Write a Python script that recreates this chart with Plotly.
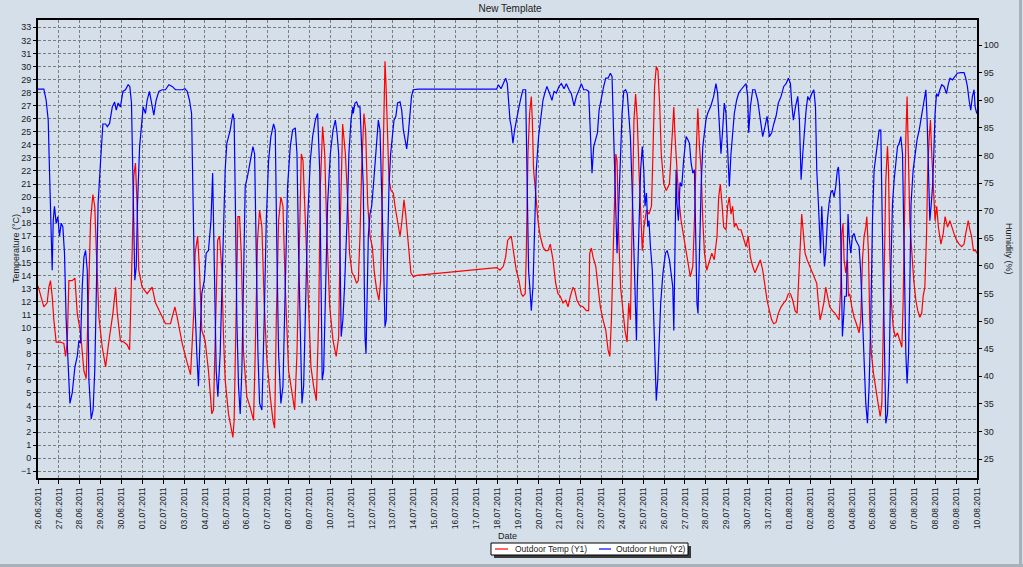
import pandas as pd
import plotly.graph_objects as go

start = pd.Timestamp("2011-06-26")

# Outdoor temperature: time (days after 26.06.2011 00:00) and value (°C)
temp_day = [0.00,0.28,0.44,0.52,0.60,0.68,0.76,0.87,1.08,1.24,1.32,1.40,1.48,1.64,1.77,1.88,
            2.04,2.20,2.31,2.40,2.52,2.63,2.72,2.80,2.92,3.08,3.24,3.40,3.59,3.72,3.80,3.95,
            4.11,4.27,4.39,4.51,4.59,4.67,4.75,4.83,4.99,5.23,5.47,5.63,5.87,6.11,6.35,6.56,
            6.67,6.91,7.15,7.31,7.47,
            7.53,7.65,7.74,7.85,8.01,8.17,8.33,8.41,8.49,8.61,8.70,8.81,8.89,8.97,9.13,9.24,
            9.34,9.40,9.50,9.58,9.66,9.74,9.85,10.01,10.17,10.33,10.41,10.52,10.62,10.73,10.84,
            10.97,11.13,11.26,11.34,11.42,11.53,11.64,11.74,11.85,12.01,12.17,12.30,12.41,12.54,
            12.62,12.70,12.81,12.94,13.08,13.21,13.34,13.45,13.53,13.64,13.74,13.85,13.98,14.14,
            14.29,14.41,14.49,14.60,14.73,14.84,14.93,15.05,
            15.16,15.27,15.35,15.43,15.51,15.62,15.70,15.80,15.91,16.02,16.12,16.23,16.34,16.42,
            16.50,16.58,16.63,16.68,16.74,16.82,16.92,17.03,17.11,17.22,17.35,17.43,17.54,17.62,
            17.75,17.87,17.99,18.15,21.98,22.14,22.30,22.41,22.51,
            22.68,22.80,22.92,23.05,23.16,23.24,23.35,23.40,23.48,23.56,23.64,23.69,23.75,23.85,
            23.96,24.07,24.20,24.31,24.44,24.55,24.68,24.81,24.92,25.03,25.16,25.29,25.40,25.51,
            25.64,25.72,25.83,25.96,26.12,26.28,26.39,26.44,26.52,26.60,26.73,26.84,26.95,27.08,
            27.21,27.32,27.40,27.48,27.59,27.69,27.75,27.83,27.92,28.04,28.13,28.23,28.31,28.39,
            28.48,28.56,28.64,28.72,28.80,28.88,28.96,29.04,29.16,29.28,29.40,29.47,29.55,29.63,
            29.71,29.79,29.87,29.99,30.11,
            30.26,30.34,30.42,30.47,30.53,30.61,30.70,30.82,30.94,31.06,31.17,31.26,31.38,31.46,
            31.54,31.62,31.70,31.78,31.86,31.94,32.05,32.18,32.29,32.41,32.54,32.62,32.70,32.78,
            32.86,32.97,33.05,33.13,33.21,33.29,33.37,33.45,33.57,33.69,33.82,33.93,34.04,34.14,
            34.25,34.36,34.49,34.62,34.73,34.84,34.94,35.05,35.16,35.26,35.37,35.48,35.61,35.74,
            35.85,35.96,36.06,36.17,36.28,36.38,36.46,36.54,36.60,36.68,36.76,36.86,36.97,37.08,
            37.21,37.32,37.40,37.48,37.56,37.66,
            37.75,37.83,37.94,38.07,38.20,38.31,38.39,38.47,38.52,38.58,38.63,38.71,38.79,38.84,
            38.90,39.00,39.11,39.22,39.35,39.43,39.51,39.59,39.67,39.72,39.80,39.86,39.94,40.04,
            40.15,40.26,40.36,40.44,40.50,40.57,40.63,40.71,40.76,40.82,40.90,40.98,41.08,41.19,
            41.30,41.40,41.46,41.52,41.59,41.65,41.72,41.78,41.88,41.97,42.07,42.16,42.26,42.35,
            42.42,42.50,42.58,42.64,42.71,42.77,42.83,42.91,42.99,43.07,43.15,43.27,43.38,43.47,
            43.59,43.70,43.79,43.90,44.02,44.14,44.27,44.38,44.46,44.58,44.66,44.74,44.83,44.94,
            44.99]
temp_c = [13.2,11.6,11.9,13.1,13.6,12.4,10.6,8.9,8.9,8.8,7.8,8.8,13.6,13.6,13.8,11.1,
          9.6,6.7,6.1,10.6,18.2,20.2,19.3,15.7,10.8,8.5,7.0,9.0,11.1,13.1,11.1,9.0,
          8.9,8.7,8.3,15.7,21.6,22.6,19.3,14.4,13.1,12.6,13.1,11.9,11.1,10.3,10.3,11.6,
          10.8,8.8,7.3,6.4,11.3,
          15.7,17.0,14.4,9.8,9.0,6.7,3.4,3.7,9.3,16.7,17.0,14.4,9.3,6.0,3.4,2.4,
          1.6,2.9,11.9,18.5,18.5,15.7,8.0,4.7,3.9,2.9,8.0,16.7,19.0,17.7,11.9,
          7.5,4.7,2.9,2.3,10.6,18.2,20.0,19.3,13.1,6.7,5.0,3.7,8.0,17.7,
          23.3,22.8,18.2,11.6,7.0,5.5,4.4,10.6,20.8,25.4,23.3,17.0,11.6,9.0,
          7.8,9.3,18.2,25.6,23.3,19.8,15.7,14.2,
          13.9,13.4,13.6,17.0,22.1,26.4,25.1,19.5,17.0,16.2,14.2,12.9,12.1,13.6,
          20.8,28.5,30.4,28.5,24.6,21.3,20.5,20.3,19.3,18.2,17.0,18.0,19.8,18.7,
          16.2,14.2,13.9,14.0,14.6,14.4,14.7,15.4,16.7,
          17.0,15.7,14.4,13.6,12.6,12.4,12.6,15.7,23.3,26.4,27.7,25.9,22.1,20.3,
          18.2,17.0,16.2,15.9,15.9,16.4,15.2,13.4,12.6,12.4,11.9,12.1,11.6,12.4,
          13.1,12.9,12.1,11.7,11.6,11.3,11.3,15.7,16.1,15.4,14.7,13.1,11.6,10.6,
          9.8,8.3,7.8,10.6,18.2,23.3,22.8,17.0,13.1,11.3,9.8,8.9,11.9,10.6,
          18.2,25.9,27.9,25.9,22.1,18.2,15.9,17.7,19.0,18.7,19.3,23.3,28.5,30.0,
          29.7,27.2,23.3,21.0,20.5,
          21.0,23.3,25.9,26.9,24.6,22.1,20.0,18.2,17.0,15.7,14.7,13.9,14.7,18.2,
          23.3,26.8,23.9,22.1,18.2,15.7,14.4,15.2,15.7,15.2,17.0,20.0,21.0,19.5,
          17.7,17.5,19.3,20.0,18.7,19.3,17.7,18.0,17.5,17.5,16.7,16.2,17.0,15.4,
          14.7,14.2,14.7,15.2,14.4,13.1,12.1,11.3,10.6,10.3,10.4,11.1,11.6,11.9,
          12.1,12.6,12.6,12.1,11.3,11.1,14.4,17.7,18.7,17.2,15.7,15.2,14.8,14.4,
          13.9,13.4,11.9,10.6,11.1,11.9,
          13.1,12.4,11.6,11.3,11.1,10.8,10.6,13.1,17.2,18.0,15.2,14.2,15.2,12.4,
          12.6,11.6,10.8,10.3,9.6,10.6,15.2,17.0,17.7,18.5,15.7,10.6,8.0,6.5,
          5.5,4.2,3.2,4.2,9.3,17.0,21.3,23.9,22.1,15.7,11.9,10.1,9.3,9.6,
          9.0,8.5,11.9,18.2,24.6,27.7,23.3,18.2,15.7,13.6,12.1,11.3,10.8,11.1,
          12.4,13.1,17.0,22.1,24.6,25.9,23.3,20.8,18.2,19.3,17.7,16.4,17.2,18.5,
          17.7,18.2,17.7,17.2,16.7,16.4,16.2,16.4,17.2,18.2,17.5,17.0,15.9,15.9,
          15.7]

# Outdoor humidity: time (days after 26.06.2011 00:00) and value (%)
hum_day = [0.00,0.28,0.39,0.49,0.55,0.60,0.68,0.73,0.79,0.87,0.95,1.03,1.11,1.19,1.27,
           1.35,1.43,1.53,1.64,1.77,1.88,1.96,2.04,2.12,2.20,2.28,2.36,2.44,2.55,2.64,
           2.72,2.79,2.88,3.00,3.11,3.24,3.32,3.43,3.56,3.67,3.75,3.84,3.95,4.07,4.19,
           4.32,4.40,4.48,4.55,4.61,4.64,4.71,4.77,4.87,4.96,5.04,5.15,5.23,5.34,5.44,
           5.55,5.66,5.79,5.95,6.11,6.27,6.43,6.59,6.91,7.04,7.15,7.26,7.36,7.42,7.47,7.52,
           7.61,7.69,7.77,7.85,7.97,8.06,8.17,8.29,8.37,8.45,8.54,8.62,8.73,8.86,8.97,
           9.05,9.21,9.34,9.40,9.47,9.53,9.61,9.69,9.77,9.85,9.93,10.04,10.17,10.30,10.38,
           10.46,10.54,10.62,10.73,10.84,10.94,11.05,11.16,11.29,11.37,11.45,11.53,11.64,11.74,11.85,
           11.96,12.09,12.20,12.33,12.41,12.49,12.57,12.65,12.73,12.81,12.92,13.05,13.16,13.29,13.40,
           13.50,13.56,13.62,13.69,13.77,13.88,14.01,14.14,14.25,14.33,14.41,14.49,14.53,14.61,14.69,
           14.81,14.90,15.00,15.09,
           15.11,15.19,15.27,15.35,15.43,15.51,15.59,15.64,15.67,15.72,15.76,15.83,15.91,15.99,16.07,
           16.15,16.23,16.31,16.39,16.47,16.55,16.63,16.69,16.75,16.82,16.90,16.98,17.06,17.15,17.23,
           17.35,17.43,17.51,17.59,17.67,17.75,17.82,17.90,17.98,18.22,21.98,22.06,22.19,22.30,22.41,
           22.49,22.54,22.62,
           22.68,22.76,22.84,22.92,23.05,23.16,23.24,23.37,23.43,23.51,23.59,23.64,23.72,23.80,23.88,
           23.99,24.12,24.20,24.28,24.39,24.52,24.63,24.73,24.84,24.97,25.08,25.21,25.32,25.45,25.56,
           25.69,25.80,25.93,26.04,26.15,26.28,26.39,26.44,26.49,26.55,26.63,26.73,26.81,26.89,27.00,
           27.11,27.21,27.32,27.43,27.51,27.59,27.67,27.75,27.83,27.91,27.99,28.07,28.16,28.24,28.31,
           28.39,28.47,28.55,28.63,28.68,28.72,28.80,28.88,28.96,29.03,29.09,29.16,29.22,29.28,29.35,
           29.44,29.51,29.57,29.63,29.70,29.76,29.84,29.95,30.07,30.15,
           30.26,30.34,30.42,30.47,30.53,30.58,30.62,30.69,30.77,30.85,30.94,31.06,31.14,31.22,31.30,
           31.38,31.46,31.54,31.58,31.63,31.70,31.78,31.86,31.94,32.01,32.09,32.17,32.25,32.38,32.49,
           32.57,32.65,32.73,32.81,32.89,32.97,33.05,33.13,33.21,33.29,33.37,33.48,33.58,33.69,33.82,
           33.93,34.01,34.06,34.14,34.25,34.36,34.49,34.62,34.73,34.84,34.94,35.05,35.16,35.26,35.37,
           35.48,35.61,35.74,35.85,35.96,36.06,36.12,36.20,36.30,36.41,36.49,36.57,36.65,36.73,36.81,
           36.89,36.97,37.08,37.18,37.26,37.32,37.40,37.45,37.50,37.56,37.62,37.69,37.75,
           37.83,37.91,37.99,38.07,38.15,38.23,38.31,38.36,38.42,38.47,38.52,38.55,38.60,38.66,38.74,
           38.82,38.87,38.95,39.03,39.11,39.19,39.27,39.35,39.43,39.51,39.59,39.67,39.75,39.83,39.91,
           39.99,40.07,40.15,40.23,40.31,40.39,40.47,40.55,40.63,40.71,40.79,40.87,40.95,41.03,41.11,
           41.19,41.27,41.35,41.43,41.48,41.52,41.59,41.65,41.72,41.78,41.84,41.94,42.03,42.13,42.23,
           42.31,42.39,42.47,42.55,42.61,42.67,42.74,42.80,42.87,42.93,42.99,43.06,43.14,43.22,43.31,
           43.42,43.54,43.63,43.71,43.82,43.95,44.06,44.22,44.38,44.46,44.54,44.62,44.70,44.78,44.86,
           44.91,44.99]
hum_pct = [92.0,92.0,90.0,86.4,77.4,70.1,59.2,68.2,70.8,67.7,68.9,65.4,67.7,67.1,62.3,
           50.2,44.1,35.1,37.0,41.7,43.6,46.5,46.0,56.2,61.6,62.8,59.2,39.3,32.3,33.9,
           41.0,56.2,71.3,79.1,85.7,85.7,85.2,85.8,88.8,89.7,88.2,89.5,88.8,91.6,91.9,
           92.8,92.5,89.5,77.4,62.3,57.4,59.9,71.3,81.6,86.4,88.8,87.6,90.0,91.6,89.5,
           87.3,90.0,91.6,91.9,91.9,92.8,92.5,91.9,91.9,92.1,91.6,90.0,87.6,74.4,65.4,53.2,
           44.1,38.2,47.2,55.0,57.4,62.3,62.8,68.2,76.8,62.3,41.0,36.3,44.1,62.3,77.4,
           82.2,84.6,87.6,86.4,68.2,50.2,38.2,33.2,41.0,62.3,74.4,76.2,78.6,81.6,80.3,
           62.3,44.1,35.1,33.9,50.2,68.2,79.1,83.4,85.7,84.6,62.3,44.1,35.1,38.2,56.2,
           74.4,81.6,84.6,85.0,80.3,62.3,47.2,35.1,38.2,53.2,68.2,79.1,83.4,86.4,87.6,
           77.4,56.2,39.3,41.0,56.2,71.3,80.3,84.6,86.4,84.1,80.3,62.3,47.2,50.2,56.2,
           68.2,80.3,86.4,88.8,
           87.6,89.5,89.7,88.8,88.8,81.6,74.4,56.2,47.2,44.1,53.2,65.4,69.4,70.8,74.4,
           79.1,83.4,86.4,84.6,74.4,62.3,49.0,50.2,62.3,74.4,80.3,83.4,86.4,87.1,89.5,
           89.7,88.2,84.6,82.9,81.2,84.1,87.1,90.7,91.9,92.0,92.0,92.8,92.1,93.0,94.0,
           93.0,89.5,86.4,
           85.2,82.2,84.6,86.4,88.8,90.7,91.9,91.9,74.4,59.2,55.0,51.9,56.2,68.2,77.4,
           83.4,87.6,90.0,91.2,92.5,91.2,90.0,91.6,91.3,92.5,93.0,92.1,93.0,91.9,91.2,
           89.0,90.7,91.9,93.0,91.9,91.9,91.6,86.4,80.3,76.8,81.6,82.9,84.1,88.2,90.7,
           92.5,94.0,94.0,94.9,94.3,83.4,71.3,62.3,70.8,80.3,87.6,91.6,91.9,91.2,87.6,
           83.4,74.4,62.3,51.9,46.5,56.2,68.2,77.4,81.6,77.4,70.8,73.2,67.1,68.2,63.5,
           59.2,50.2,41.0,35.6,39.3,45.3,53.2,58.7,62.3,62.8,
           61.1,58.7,56.2,48.3,62.3,77.4,71.3,68.2,75.1,74.4,79.1,83.4,82.9,82.2,78.6,
           76.8,77.4,62.3,53.2,51.4,62.3,74.4,81.6,84.6,86.4,87.6,88.2,89.0,90.7,93.0,
           91.2,86.4,80.3,84.6,89.5,87.6,80.3,74.4,80.3,83.4,87.6,90.0,91.3,91.9,92.5,
           93.0,90.7,84.1,88.8,91.9,91.9,90.0,86.4,83.4,85.2,87.1,83.4,84.1,85.7,87.1,
           89.5,90.7,92.5,93.0,94.0,93.0,89.5,86.4,88.8,90.7,86.4,75.6,80.3,84.6,88.2,
           90.7,90.0,91.2,91.9,88.8,77.4,71.3,65.4,62.3,70.8,65.4,59.9,62.3,
           68.2,71.3,73.2,73.7,72.5,74.4,77.4,77.9,74.4,65.4,55.0,47.2,50.2,54.5,54.5,
           69.4,65.4,62.3,65.4,65.9,64.7,64.0,63.5,58.7,50.2,41.0,35.1,31.5,38.2,50.2,
           68.2,77.4,80.3,82.2,84.6,84.6,65.4,44.1,31.5,33.2,41.0,59.2,71.3,75.6,79.1,
           81.6,82.2,83.4,80.3,68.2,53.2,44.1,38.7,44.1,56.2,71.3,77.4,80.3,82.9,84.6,
           86.4,88.8,90.7,91.9,86.4,77.4,68.2,70.8,74.4,80.3,87.6,91.2,90.7,91.9,92.8,
           92.5,91.2,93.0,94.0,93.7,94.3,94.9,95.0,95.0,94.0,92.5,90.0,88.2,90.7,91.9,
           88.8,87.6]

series_names = ["Outdoor Temp (Y1)", "Outdoor Hum (Y2)"]
series_colors = ["#FF0000", "#0000FF"]
temp_ticks = list(range(-1, 34))
hum_ticks = list(range(25, 101, 5))

temp_t = start + pd.to_timedelta(temp_day, unit="D")
hum_t = start + pd.to_timedelta(hum_day, unit="D")

BG = "#D4DFEA"
GRID = "#7c7c7c"
FONT = "Liberation Sans, Arial, sans-serif"
TXT = "#1a1a1a"

# plot-area geometry (pixels) used to place legend/annotations in paper coords
W, H = 1023, 567
ML, MR, MT, MB = 38, 46, 20, 89
PW, PH = W - ML - MR, H - MT - MB


def px(x):
    return (x - ML) / PW


def py(y):
    return (H - MB - y) / PH


fig = go.Figure()
fig.add_trace(go.Scatter(x=temp_t, y=temp_c, mode="lines", name=series_names[0],
                         line=dict(color=series_colors[0], width=1.2)))
fig.add_trace(go.Scatter(x=hum_t, y=hum_pct, mode="lines", name=series_names[1],
                         yaxis="y2", line=dict(color=series_colors[1], width=1.2)))

leg_y = py(549)
shapes = [
    # panel edge lines
    dict(type="line", xref="paper", yref="paper", x0=px(1020.5), x1=px(1020.5), y0=py(567), y1=py(0),
         line=dict(color="#A8B0B8", width=3)),
    dict(type="line", xref="paper", yref="paper", x0=px(0), x1=px(1023), y0=py(565.5), y1=py(565.5),
         line=dict(color="#A8B0B8", width=3)),
    # legend shadow and box
    dict(type="rect", xref="paper", yref="paper", x0=px(494), x1=px(691), y0=py(546), y1=py(558),
         fillcolor="#3a3a3a", line=dict(width=0)),
    dict(type="rect", xref="paper", yref="paper", x0=px(491), x1=px(688), y0=py(543), y1=py(555),
         fillcolor="white", line=dict(color="black", width=1)),
    # legend line samples
    dict(type="line", xref="paper", yref="paper", x0=px(495), x1=px(508), y0=leg_y, y1=leg_y,
         line=dict(color=series_colors[0], width=1.2)),
    dict(type="line", xref="paper", yref="paper", x0=px(599), x1=px(611), y0=leg_y, y1=leg_y,
         line=dict(color=series_colors[1], width=1.2)),
]

annotations = [
    dict(text="Date", xref="paper", yref="paper", x=px(507), y=py(536),
         xanchor="center", yanchor="middle", showarrow=False,
         font=dict(family=FONT, size=9, color=TXT)),
    dict(text="Temperature (°C)", xref="paper", yref="paper", x=px(16), y=0.5,
         xanchor="center", yanchor="middle", textangle=-90, showarrow=False,
         font=dict(family=FONT, size=9, color=TXT)),
    dict(text="Humidity (%)", xref="paper", yref="paper", x=px(1009), y=0.5,
         xanchor="center", yanchor="middle", textangle=90, showarrow=False,
         font=dict(family=FONT, size=9, color=TXT)),
    dict(text=series_names[0], xref="paper", yref="paper", x=px(513), y=leg_y,
         xanchor="left", yanchor="middle", showarrow=False,
         font=dict(family=FONT, size=8.5, color=TXT)),
    dict(text=series_names[1], xref="paper", yref="paper", x=px(614), y=leg_y,
         xanchor="left", yanchor="middle", showarrow=False,
         font=dict(family=FONT, size=8.5, color=TXT)),
]

fig.update_layout(
    width=W, height=H, autosize=False,
    margin=dict(l=ML, r=MR, t=MT, b=MB, pad=0, autoexpand=False),
    paper_bgcolor=BG, plot_bgcolor=BG,
    font=dict(family=FONT, size=9, color=TXT),
    title=dict(text="New Template", x=px(510), xref="paper", xanchor="center",
               y=1 - 8 / H, yref="container", yanchor="middle",
               font=dict(family=FONT, size=10, color="#222222")),
    xaxis=dict(type="date", range=["2011-06-26", "2011-08-10"],
               tickmode="linear", tick0="2011-06-26", dtick=86400000,
               tickformat="%d.%m.%Y", tickangle=-90,
               ticks="outside", ticklen=4, tickcolor="black",
               showline=True, linecolor="black", linewidth=2, mirror=True,
               showgrid=True, gridcolor=GRID, griddash="3px,2px", gridwidth=1,
               zeroline=False, automargin=False, tickfont=dict(size=8.5)),
    yaxis=dict(range=[-1.51, 33.56], tickmode="array", tickvals=temp_ticks,
               ticks="outside", ticklen=3, tickcolor="black",
               showline=True, linecolor="black", linewidth=2, mirror=True,
               showgrid=True, gridcolor=GRID, griddash="3px,2px", gridwidth=1,
               zeroline=False, automargin=False, tickfont=dict(size=9)),
    yaxis2=dict(range=[21.59, 104.53], overlaying="y", side="right",
                tickmode="array", tickvals=hum_ticks,
                ticks="outside", ticklen=3, tickcolor="black",
                showline=True, linecolor="black", linewidth=2,
                showgrid=False, zeroline=False, automargin=False,
                tickfont=dict(size=9)),
    showlegend=False,
    annotations=annotations,
    shapes=shapes,
)

fig.write_html("out.html")
